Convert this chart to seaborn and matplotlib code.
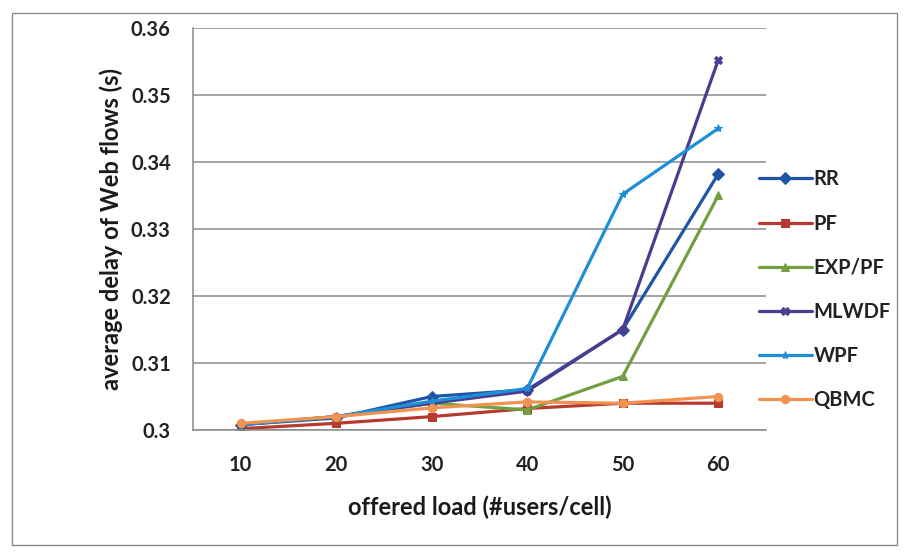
import numpy as np
import matplotlib
matplotlib.use('Agg')
import matplotlib.pyplot as plt
import seaborn as sns
import pandas as pd

# offered load (#users/cell)
loads = [10, 20, 30, 40, 50, 60]

# average delay of Web flows (s)
rr = [0.3008, 0.3018, 0.3050, 0.3060, 0.3150, 0.3382]
pf = [0.3002, 0.3010, 0.3020, 0.3032, 0.3040, 0.3040]
exp_pf = [0.3008, 0.3020, 0.3040, 0.3030, 0.3080, 0.3350]
mlwdf = [0.3008, 0.3020, 0.3040, 0.3058, 0.3150, 0.3552]
wpf = [0.3008, 0.3020, 0.3043, 0.3062, 0.3352, 0.3450]
qbmc = [0.3010, 0.3020, 0.3033, 0.3042, 0.3040, 0.3050]

schemes = ['RR', 'PF', 'EXP/PF', 'MLWDF', 'WPF', 'QBMC']
series = [rr, pf, exp_pf, mlwdf, wpf, qbmc]

colors = {'RR': '#1f55a6', 'PF': '#b83a2e', 'EXP/PF': '#72a040',
          'MLWDF': '#4a3d8f', 'WPF': '#1d8fd6', 'QBMC': '#f29250'}
markers = {'RR': 'D', 'PF': 's', 'EXP/PF': '^',
           'MLWDF': 'X', 'WPF': '*', 'QBMC': 'o'}

df = pd.DataFrame({
    'load': np.tile(loads, len(schemes)),
    'delay': np.concatenate(series),
    'scheme': np.repeat(schemes, len(loads)),
})

sns.set_theme(style='white')
plt.rcParams['font.family'] = ['Lato', 'DejaVu Sans']

fig = plt.figure(figsize=(9.07, 5.52), dpi=100)
ax = fig.add_axes([0.2128, 0.221, 0.6317, 0.7283])

sns.lineplot(data=df, x='load', y='delay', hue='scheme', style='scheme',
             hue_order=schemes, style_order=schemes, palette=colors,
             markers=markers, dashes=False, linewidth=2.3, markersize=6,
             ax=ax, legend='full')

# solid markers, same colour as the line (Excel style)
for ln in ax.get_lines():
    ln.set_markeredgecolor(ln.get_color())
    ln.set_markerfacecolor(ln.get_color())

ax.set_xlim(5, 65)
ax.set_ylim(0.3, 0.36)
ax.set_yticks(np.arange(0.30, 0.3601, 0.01))
ax.set_yticklabels(['0.3', '0.31', '0.32', '0.33', '0.34', '0.35', '0.36'])
ax.set_xticks(loads)
ax.set_xticks(np.arange(5, 66, 10), minor=True)
ax.tick_params(axis='x', which='major', length=0, pad=18, labelsize=14.5)
ax.tick_params(axis='x', which='minor', length=5, width=1, color='#888888', direction='out')
ax.tick_params(axis='y', length=5, width=1, color='#888888', direction='out', pad=11, labelsize=14.5)
for lbl in ax.get_xticklabels() + ax.get_yticklabels():
    lbl.set_fontweight('bold')
    lbl.set_color('#222222')
ax.yaxis.grid(True, color='#8a8a8a', linewidth=1.1)
ax.set_axisbelow(True)

for s in ['top', 'right']:
    ax.spines[s].set_visible(False)
for s in ['left', 'bottom']:
    ax.spines[s].set_color('#8a8a8a')
    ax.spines[s].set_linewidth(1.1)

ax.set_xlabel('offered load (#users/cell)', fontsize=17, fontweight='bold',
              labelpad=15, color='#1a1a1a')
ax.set_ylabel('average delay of Web flows (s)', fontsize=17, fontweight='bold',
              labelpad=6, color='#1a1a1a')

handles, labels = ax.get_legend_handles_labels()
ax.get_legend().remove()
leg = fig.legend(handles, labels, loc='center left', bbox_to_anchor=(0.817, 0.475),
                 frameon=False, prop={'size': 14.5, 'weight': 'bold'},
                 handlelength=2.6, handletextpad=0.1, labelspacing=1.2)
for t in leg.get_texts():
    t.set_color('#222222')

# outer chart border
fig.patches.append(plt.Rectangle((12 / 907, 7 / 552), 885 / 907, 532 / 552,
                                 transform=fig.transFigure, fill=False,
                                 edgecolor='#8a8a8a', linewidth=1.0))

plt.savefig('out.png', dpi=100)
plt.close()
